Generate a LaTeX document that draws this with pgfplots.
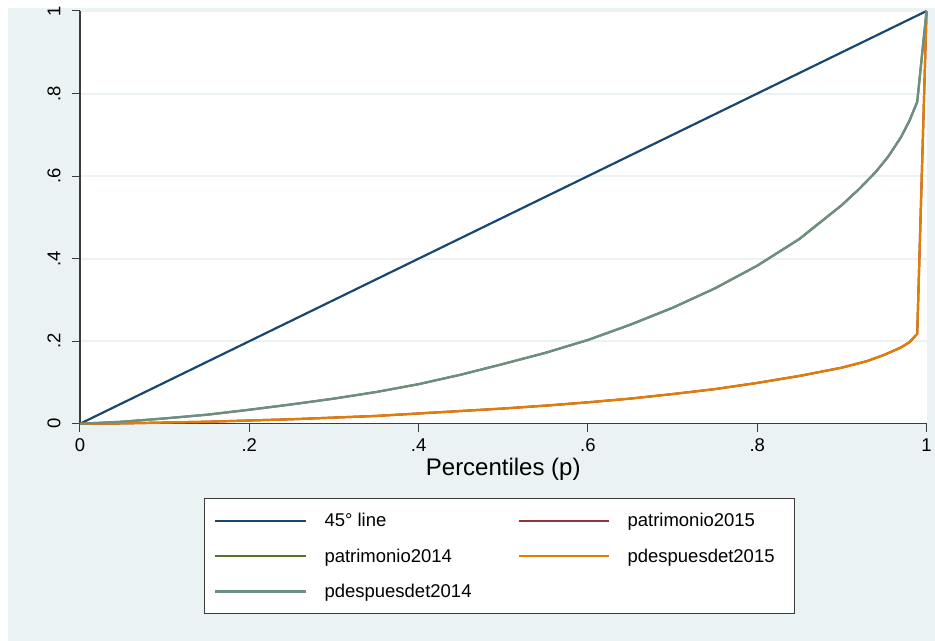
\documentclass[border=0pt]{standalone}
\usepackage{fontspec}
\setmainfont{Liberation Sans}
\usepackage{pgfplots}
\usepackage{pgfplotstable}
\pgfplotsset{compat=1.18}
\usetikzlibrary{backgrounds}

\definecolor{stnavy}{RGB}{26,71,111}
\definecolor{stmaroon}{RGB}{144,53,59}
\definecolor{stgreen}{RGB}{85,117,47}
\definecolor{storange}{RGB}{227,126,0}
\definecolor{stteal}{RGB}{110,142,132}
\definecolor{stbg}{RGB}{234,242,243}
\definecolor{stgrid}{RGB}{234,242,243}
\definecolor{staxis}{RGB}{60,60,60}

% Lorenz curves: cumulative share of wealth by percentile
\pgfplotstableread{
p      L
0      0
1      1
}\diagonal

\pgfplotstableread{
p      L
0      0
0.05   0.005
0.10   0.013
0.15   0.022
0.20   0.034
0.25   0.047
0.30   0.061
0.35   0.077
0.40   0.096
0.45   0.119
0.50   0.145
0.55   0.172
0.60   0.203
0.65   0.240
0.70   0.281
0.75   0.328
0.80   0.383
0.85   0.448
0.90   0.530
0.92   0.568
0.94   0.610
0.955  0.648
0.97   0.695
0.98   0.735
0.989  0.780
1      1
}\wealthA

\pgfplotstableread{
p      L
0      0
0.05   0.001
0.10   0.003
0.15   0.005
0.20   0.008
0.25   0.011
0.30   0.015
0.35   0.019
0.40   0.025
0.45   0.031
0.50   0.037
0.55   0.044
0.60   0.052
0.65   0.061
0.70   0.072
0.75   0.084
0.80   0.099
0.85   0.116
0.90   0.136
0.93   0.152
0.95   0.167
0.97   0.185
0.98   0.198
0.989  0.218
1      1
}\wealthB

\begin{document}
\begin{tikzpicture}
\begin{axis}[
  name=main,
  scale only axis,
  width=847pt, height=413pt,
  xmin=0, xmax=1, ymin=0, ymax=1,
  clip=false,
  axis x line*=bottom, axis y line*=left,
  axis line style={-, draw=staxis, line width=1.2pt},
  tick align=outside,
  major tick length=8pt,
  tick style={draw=staxis, line width=1pt},
  xtick={0,0.2,0.4,0.6,0.8,1},
  xticklabels={0,.2,.4,.6,.8,1},
  ytick={0,0.2,0.4,0.6,0.8,1},
  yticklabels={0,.2,.4,.6,.8,1},
  yticklabel style={rotate=90, anchor=south},
  xticklabel shift=3pt,
  yticklabel shift=8pt,
  tick label style={font=\fontsize{18.5}{22}\selectfont, text=black},
  ymajorgrids,
  major grid style={draw=stgrid, line width=2pt},
  axis background/.style={fill=white},
  xlabel={Percentiles (p)},
  xlabel style={font=\fontsize{24}{28}\selectfont,
    at={(axis description cs:0.5,-0.1114)}, anchor=center},
  legend columns=2,
  legend cell align=left,
  legend style={
    at={(0.1464,-0.1792)}, anchor=north west,
    draw=staxis, line width=1pt, fill=white,
    font=\fontsize{18.5}{22}\selectfont,
    inner xsep=10pt, inner ysep=13pt,
    row sep=16.5pt,
    /tikz/every odd column/.append style={column sep=15pt},
    /tikz/every even column/.append style={column sep=0pt},
  },
  legend image code/.code={\draw[#1] (0pt,0pt) -- (91pt,0pt);},
  every axis plot/.append style={line width=2.2pt, line join=round},
]
\addplot[stnavy]   table[x=p, y=L] {\diagonal};
\addlegendentry{\makebox[191pt][l]{45° line}}
\addplot[stmaroon] table[x=p, y=L] {\wealthB};
\addlegendentry{\makebox[155pt][l]{patrimonio2015}}
\addplot[stgreen]  table[x=p, y=L] {\wealthA};
\addlegendentry{\makebox[191pt][l]{patrimonio2014}}
\addplot[storange] table[x=p, y=L] {\wealthB};
\addlegendentry{\makebox[155pt][l]{pdespuesdet2015}}
\addplot[stteal]   table[x=p, y=L] {\wealthA};
\addlegendentry{\makebox[191pt][l]{pdespuesdet2014}}
\end{axis}
\begin{scope}[on background layer]
  \fill[white] ([shift={(-80pt,-217pt)}]main.south west) rectangle ([shift={(855pt,424pt)}]main.south west);
  \fill[stbg] ([shift={(-72pt,-217pt)}]main.south west) rectangle ([shift={(855pt,416pt)}]main.south west);
\end{scope}
\end{tikzpicture}
\end{document}
